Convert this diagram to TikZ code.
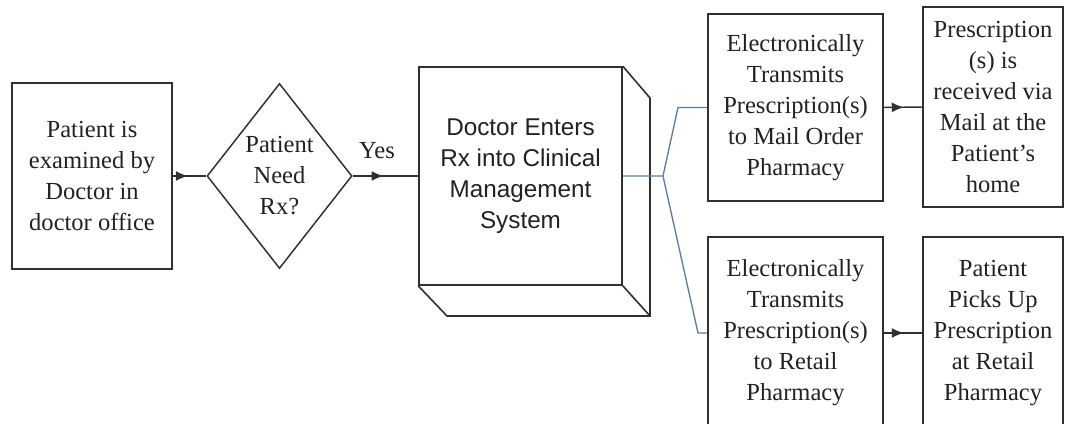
\documentclass[tikz,border=0pt]{standalone}
\usepackage{fontspec}
\setmainfont{Liberation Serif}
\newfontfamily\arialfont{Liberation Sans}
\usetikzlibrary{shapes.geometric,arrows.meta,decorations.markings}
\definecolor{linegray}{HTML}{303030}
\definecolor{txtgray}{HTML}{222222}
\definecolor{connblue}{HTML}{5F7D99}
\tikzset{
  boxnode/.style={draw=linegray, line width=1.2pt, rectangle, inner sep=0pt, align=center,
    text=txtgray, font=\fontsize{18.4pt}{23.25pt}\selectfont},
  flowline/.style={draw=linegray, line width=1.1pt},
  midarrow/.style={postaction={decorate}, decoration={markings,
    mark=at position #1 with {\arrow{Latex[length=9pt,width=7.5pt]}}}},
  bluelink/.style={draw=connblue, line width=1pt, line join=miter},
}
\begin{document}
\begin{tikzpicture}[x=0.75pt,y=-0.75pt]
\path[use as bounding box, clip] (0,0) rectangle (1066,424);
\fill[white] (0,0) rectangle (1066,424);

% box 1
\node[boxnode, minimum width=120pt, minimum height=139.5pt] (b1) at (92,176)
  {Patient is\\examined by\\Doctor in\\doctor office};

% diamond
\node[draw=linegray, line width=1.1pt, diamond, inner sep=0pt,
  minimum width=108.75pt, minimum height=138.75pt] (d) at (279.5,176) {};
\node[align=center, text=txtgray, inner sep=0pt,
  font=\fontsize{18.4pt}{23.25pt}\selectfont] (dt) at (279.5,176) {Patient\\Need\\Rx?};

% 3D box front face
\node[boxnode, minimum width=152.25pt, minimum height=163.5pt,
  font=\arialfont\fontsize{18.2pt}{23.25pt}\selectfont] (c) at (520.5,176)
  {Doctor Enters\\Rx into Clinical\\Management\\System};
\coordinate (cbtr) at (650,98);
\coordinate (cbbr) at (650,316);
\coordinate (cbbl) at (447,316);
\draw[linegray, line width=1.2pt, line join=miter]
  (c.north east) -- (cbtr) -- (cbbr) -- (cbbl) -- (c.south west);
\draw[linegray, line width=1.2pt] (c.south east) -- (cbbr);

% right boxes
\node[boxnode, minimum width=131.25pt, minimum height=140.25pt] (b3) at (795.5,107.5)
  {Electronically\\Transmits\\Prescription(s)\\to Mail Order\\Pharmacy};
\node[boxnode, minimum width=105pt, minimum height=150pt] (b4) at (993,107)
  {Prescription\\(s) is\\received via\\Mail at the\\Patient’s\\home};
\node[boxnode, minimum width=131.25pt, minimum height=144pt] (b5) at (795.5,333)
  {Electronically\\Transmits\\Prescription(s)\\to Retail\\Pharmacy};
\node[boxnode, minimum width=105pt, minimum height=144pt] (b6) at (993,333)
  {Patient\\Picks Up\\Prescription\\at Retail\\Pharmacy};

% connectors
\draw[flowline, midarrow=0.45] (b1.east) -- (d.west);
\draw[flowline, midarrow=0.47] (d.east) -- (c.west);
\node[text=txtgray, inner sep=0pt, font=\fontsize{18.4pt}{23.25pt}\selectfont] (yes) at (377,151) {Yes};

\coordinate (br) at (663,176);
\coordinate (bup) at (678,107.5);
\coordinate (bdn) at (698,333);
\draw[bluelink] (c.east) -- (br) -- (bup) -- (b3.west);
\draw[bluelink] (br) -- (bdn) -- (b5.west);

\draw[flowline, midarrow=0.52] (b3.east) -- (b4.west);
\draw[flowline, midarrow=0.52] (b5.east) -- (b6.west);
\end{tikzpicture}
\end{document}
